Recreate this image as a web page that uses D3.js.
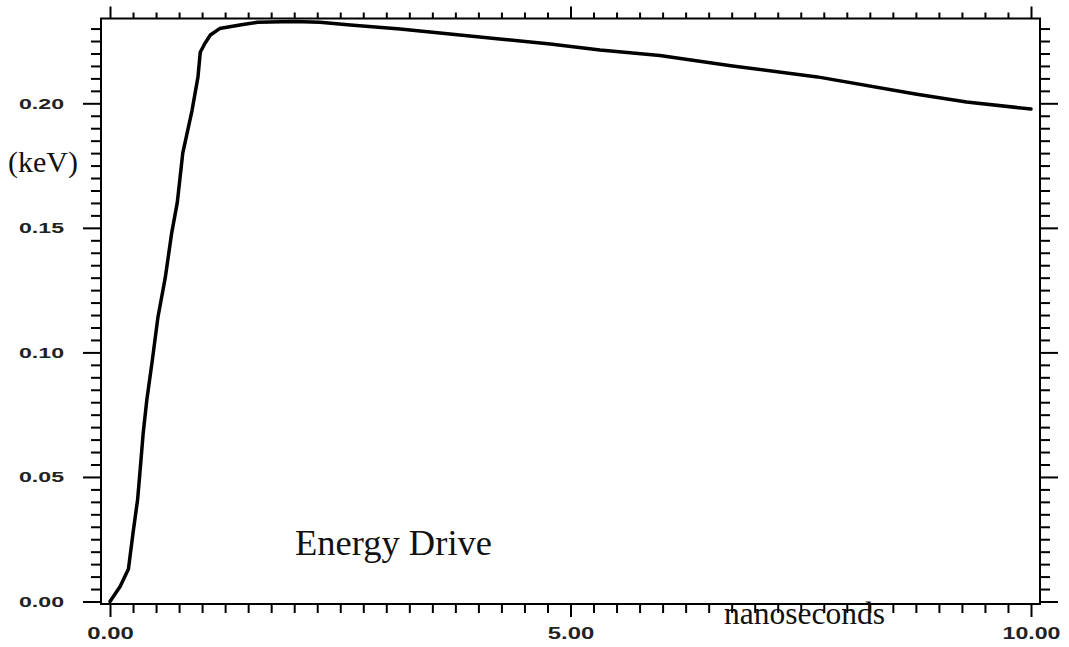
<!DOCTYPE html>
<html>
<head>
<meta charset="utf-8">
<script src="https://cdn.jsdelivr.net/npm/d3@7"></script>
<style>
  html, body { margin: 0; padding: 0; background: #fff; }
  svg { display: block; }
</style>
</head>
<body>
<svg id="chart" width="1069" height="647"></svg>
<script>
// Energy drive pulse: time (ns) vs energy (keV)
const timeNs = [0, 0.11, 0.2, 0.25, 0.3, 0.33, 0.36, 0.4, 0.46, 0.52, 0.6, 0.67, 0.73, 0.79, 0.89,
  0.955, 0.98, 1.03, 1.09, 1.19, 1.41, 1.6, 2.0, 2.28, 2.61, 3.15, 3.69, 4.23, 4.78, 5.32, 5.97,
  6.76, 7.68, 8.76, 9.3, 10.0];
const energyKeV = [0, 0.006, 0.013, 0.0275, 0.041, 0.054, 0.0675, 0.081, 0.097, 0.114, 0.130,
  0.148, 0.160, 0.180, 0.197, 0.2105, 0.2205, 0.2240, 0.2274, 0.2300, 0.2314, 0.2325, 0.2328,
  0.2325, 0.2314, 0.2298, 0.2278, 0.2258, 0.2238, 0.2214, 0.2192, 0.2150, 0.2106, 0.2036,
  0.2005, 0.1977];

const xMajorTicks = [0, 5, 10];
const yMajorTicks = [0, 0.05, 0.10, 0.15, 0.20];
const xLabel = "nanoseconds";
const yLabel = "(keV)";
const title = "Energy Drive";

const svg = d3.select("#chart");

// plot frame
const box = { left: 101, right: 1040, top: 18.5, bottom: 604 };

const x = d3.scaleLinear().domain([0, 10]).range([110, 1031]);
const y = d3.scaleLinear().domain([0, 0.2]).range([601.5, 103.3]);

const xMinor = d3.range(0, 40.5).map(i => i * 0.25).filter(v => !xMajorTicks.includes(v));
const yMinor = d3.range(0, 47).map(i => +(i * 0.005).toFixed(3))
  .filter(v => y(v) >= box.top && !yMajorTicks.some(m => Math.abs(m - v) < 1e-9));

const fmt = d3.format(".2f");

function styleAxis(g) {
  g.select(".domain").remove();
  g.selectAll(".tick line").attr("stroke", "#000").attr("stroke-width", 2);
}

// bottom axis
svg.append("g").attr("transform", `translate(0,${box.bottom})`)
  .call(d3.axisBottom(x).tickValues(xMinor).tickSize(9).tickFormat(""))
  .call(styleAxis);
const xb = svg.append("g").attr("transform", `translate(0,${box.bottom})`)
  .call(d3.axisBottom(x).tickValues(xMajorTicks).tickSize(13).tickPadding(11).tickFormat(fmt))
  .call(styleAxis);
xb.selectAll(".tick text")
  .attr("font-family", "Liberation Sans, Arial, sans-serif")
  .attr("font-weight", "bold")
  .attr("font-size", 16)
  .attr("fill", "#222")
  .attr("textLength", d => fmt(d).length * 11.6)
  .attr("lengthAdjust", "spacingAndGlyphs");

// top axis
svg.append("g").attr("transform", `translate(0,${box.top})`)
  .call(d3.axisTop(x).tickValues(xMinor).tickSize(6).tickFormat(""))
  .call(styleAxis);
svg.append("g").attr("transform", `translate(0,${box.top})`)
  .call(d3.axisTop(x).tickValues(xMajorTicks).tickSize(12).tickFormat(""))
  .call(styleAxis);

// left axis
svg.append("g").attr("transform", `translate(${box.left},0)`)
  .call(d3.axisLeft(y).tickValues(yMinor).tickSize(10).tickFormat(""))
  .call(styleAxis);
const yl = svg.append("g").attr("transform", `translate(${box.left},0)`)
  .call(d3.axisLeft(y).tickValues(yMajorTicks).tickSize(18).tickPadding(19).tickFormat(fmt))
  .call(styleAxis);
yl.selectAll(".tick text")
  .attr("font-family", "Liberation Sans, Arial, sans-serif")
  .attr("font-weight", "bold")
  .attr("font-size", 15)
  .attr("fill", "#222")
  .attr("textLength", 45)
  .attr("lengthAdjust", "spacingAndGlyphs");

// right axis
svg.append("g").attr("transform", `translate(${box.right},0)`)
  .call(d3.axisRight(y).tickValues(yMinor).tickSize(10).tickFormat(""))
  .call(styleAxis);
svg.append("g").attr("transform", `translate(${box.right},0)`)
  .call(d3.axisRight(y).tickValues(yMajorTicks).tickSize(18).tickFormat(""))
  .call(styleAxis);

// frame lines
svg.append("rect")
  .attr("x", box.left).attr("y", box.top)
  .attr("width", box.right - box.left).attr("height", box.bottom - box.top)
  .attr("fill", "none").attr("stroke", "#000").attr("stroke-width", 2);

// curve
const line = d3.line().x((d, i) => x(timeNs[i])).y(d => y(d));
svg.append("path")
  .datum(energyKeV)
  .attr("d", line)
  .attr("fill", "none")
  .attr("stroke", "#000")
  .attr("stroke-width", 3.5)
  .attr("stroke-linejoin", "round")
  .attr("stroke-linecap", "round");

// labels
svg.append("text")
  .attr("x", 8).attr("y", 172)
  .attr("font-family", "Liberation Serif, Times New Roman, serif")
  .attr("font-size", 30)
  .attr("fill", "#111")
  .text(yLabel);

svg.append("text")
  .attr("x", 295).attr("y", 555)
  .attr("font-family", "Liberation Serif, Times New Roman, serif")
  .attr("font-size", 36.5)
  .attr("fill", "#111")
  .text(title);

svg.append("text")
  .attr("x", 724).attr("y", 624)
  .attr("font-family", "Liberation Serif, Times New Roman, serif")
  .attr("font-size", 31.5)
  .attr("fill", "#111")
  .text(xLabel);
</script>
</body>
</html>
